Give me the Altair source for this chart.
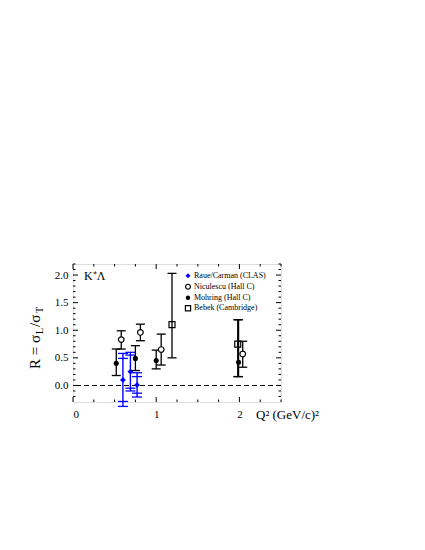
import altair as alt
import pandas as pd

# ---------------- data ----------------
clas_q2 = [0.60, 0.69, 0.77]
clas_r = [0.10, 0.25, 0.01]
clas_err_in = [0.39, 0.30, 0.15]
clas_err_out = [0.48, 0.35, 0.22]

nic_q2 = [0.58, 0.81, 1.06, 2.04]
nic_r = [0.83, 0.96, 0.65, 0.57]
nic_lo = [0.66, 0.81, 0.37, 0.33]
nic_hi = [0.99, 1.11, 0.93, 0.80]

moh_q2 = [0.52, 0.75, 1.00, 1.99]
moh_r = [0.40, 0.49, 0.45, 0.42]
moh_lo = [0.18, 0.27, 0.30, 0.16]
moh_hi = [0.66, 0.72, 0.64, 1.19]

beb_q2 = [1.19, 1.98]
beb_r = [1.10, 0.75]
beb_lo = [0.50, 0.16]
beb_hi = [2.03, 1.19]

legend_labels = ["Raue/Carman (CLAS)", "Niculescu (Hall C)", "Mohring (Hall C)", "Bebek (Cambridge)"]

x_major = [0, 1, 2]
x_minor = [0.25, 0.5, 0.75, 1.25, 1.5, 1.75, 2.25, 2.5]
y_major = [0.0, 0.5, 1.0, 1.5, 2.0]
y_minor = [-0.2, -0.1, 0.1, 0.2, 0.3, 0.4, 0.6, 0.7, 0.8, 0.9, 1.1, 1.2, 1.3, 1.4,
           1.6, 1.7, 1.8, 1.9, 2.1, 2.2]

# ---------------- layout constants ----------------
W, H = 208, 138
FONT = "Liberation Serif"
BLUE = "#0000ff"
xs = alt.Scale(domain=[0, 2.5], nice=False, zero=False)
ys = alt.Scale(domain=[-0.3, 2.2], nice=False, zero=False)

X = lambda f: alt.X(f, type="quantitative", scale=xs,
                    axis=alt.Axis(values=x_major, format="d", title=None, ticks=False, tickSize=0,
                                  domain=False, grid=False, labelFont=FONT, labelFontSize=11,
                                  labelPadding=6, labelColor="black"))
Y = lambda f: alt.Y(f, type="quantitative", scale=ys,
                    axis=alt.Axis(values=y_major, format=".1f", title=None, ticks=False, tickSize=0,
                                  domain=False, grid=False, labelFont=FONT, labelFontSize=11,
                                  labelPadding=5, labelColor="black"))

layers = []

# dashed zero line
layers.append(alt.Chart(pd.DataFrame({"y": [0.0]})).mark_rule(
    color="black", strokeDash=[5, 3], strokeWidth=1.1).encode(y=Y("y")))

# ----- CLAS (blue diamonds, double error caps) -----
clas = pd.DataFrame({"q": clas_q2, "r": clas_r})
clas["lo_in"] = [r - e for r, e in zip(clas_r, clas_err_in)]
clas["hi_in"] = [r + e for r, e in zip(clas_r, clas_err_in)]
clas["lo_out"] = [r - e for r, e in zip(clas_r, clas_err_out)]
clas["hi_out"] = [r + e for r, e in zip(clas_r, clas_err_out)]
layers.append(alt.Chart(clas).mark_rule(color=BLUE, strokeWidth=1.4).encode(
    x=X("q"), y=Y("lo_out"), y2="hi_out"))
for col in ["lo_in", "hi_in", "lo_out", "hi_out"]:
    layers.append(alt.Chart(clas).mark_tick(color=BLUE, orient="horizontal", size=10,
                                            thickness=1.3, opacity=1).encode(x=X("q"), y=Y(col)))

# ----- black error bars -----
def black_err(q, lo, hi):
    df = pd.DataFrame({"q": q, "lo": lo, "hi": hi})
    out = [alt.Chart(df).mark_rule(color="black", strokeWidth=1.3).encode(x=X("q"), y=Y("lo"), y2="hi")]
    for col in ["lo", "hi"]:
        out.append(alt.Chart(df).mark_tick(color="black", orient="horizontal", size=9,
                                           thickness=1.3, opacity=1).encode(x=X("q"), y=Y(col)))
    return out

layers += black_err(moh_q2, moh_lo, moh_hi)
layers += black_err(nic_q2, nic_lo, nic_hi)
layers += black_err(beb_q2, beb_lo, beb_hi)

# ----- markers -----
mk_clas = dict(shape="diamond", filled=True, color=BLUE, size=34, opacity=1)
mk_nic = dict(shape="circle", filled=False, color="black", fill="white", size=32, strokeWidth=1.2, opacity=1)
mk_moh = dict(shape="circle", filled=True, color="black", size=26, opacity=1)
mk_beb = dict(shape="square", filled=False, color="black", size=36, strokeWidth=1.2, opacity=1)

layers.append(alt.Chart(clas).mark_point(**mk_clas).encode(x=X("q"), y=Y("r")))
layers.append(alt.Chart(pd.DataFrame({"q": nic_q2, "r": nic_r})).mark_point(**mk_nic).encode(x=X("q"), y=Y("r")))
layers.append(alt.Chart(pd.DataFrame({"q": moh_q2, "r": moh_r})).mark_point(**mk_moh).encode(x=X("q"), y=Y("r")))
layers.append(alt.Chart(pd.DataFrame({"q": beb_q2, "r": beb_r})).mark_point(**mk_beb).encode(x=X("q"), y=Y("r")))

# ----- frame ticks (inward, mirrored) -----
def xticks(vals, L):
    df = pd.DataFrame({"v": vals})
    return [alt.Chart(df).mark_rule(color="black", strokeWidth=1).encode(x=X("v"), y=alt.value(H), y2=alt.value(H - L)),
            alt.Chart(df).mark_rule(color="black", strokeWidth=1).encode(x=X("v"), y=alt.value(0), y2=alt.value(L))]

def yticks(vals, L):
    df = pd.DataFrame({"v": vals})
    return [alt.Chart(df).mark_rule(color="black", strokeWidth=1).encode(y=Y("v"), x=alt.value(0), x2=alt.value(L)),
            alt.Chart(df).mark_rule(color="black", strokeWidth=1).encode(y=Y("v"), x=alt.value(W), x2=alt.value(W - L))]

layers += xticks(x_major, 5) + xticks(x_minor, 2.5)
layers += yticks(y_major, 5) + yticks(y_minor, 2.5)

# ----- legend (manual) -----
leg_rows = [11.7, 22.7, 33.7, 44.3]
for lab, mk, yy in zip(legend_labels, [mk_clas, mk_nic, mk_moh, mk_beb], leg_rows):
    d = pd.DataFrame({"t": [lab]})
    m = dict(mk)
    m["size"] = m["size"] * 0.75
    layers.append(alt.Chart(d).mark_point(**m).encode(x=alt.value(115), y=alt.value(yy)))
    layers.append(alt.Chart(d).mark_text(font=FONT, fontSize=8, align="left", baseline="middle",
                                         color="black").encode(text="t:N", x=alt.value(121), y=alt.value(yy)))

# ----- annotations -----
def txt(s, x, y, size, angle=0, baseline="alphabetic"):
    return alt.Chart(pd.DataFrame({"t": [s]})).mark_text(
        font=FONT, fontSize=size, align="left", baseline=baseline, angle=angle, color="black"
    ).encode(text="t:N", x=alt.value(x), y=alt.value(y))

layers.append(txt("K\u207a\u039b", 11, 15.5, 12))
layers.append(txt("Q\u00b2 (GeV/c)\u00b2", 183, 155, 13))
# y-axis title R = sigma_L / sigma_T (rotated)
layers.append(txt("R = \u03c3", -33, 105, 15, angle=270))
layers.append(txt("L", -30, 70, 10, angle=270))
layers.append(txt("/\u03c3", -33, 63, 15, angle=270))
layers.append(txt("T", -30, 49, 10, angle=270))

chart = alt.layer(*layers).properties(
    width=W, height=H,
    autosize=alt.AutoSizeParams(type="none"),
    padding={"left": 65, "top": 256, "right": 90, "bottom": 100},
).configure_view(stroke="black", strokeWidth=1.2).configure(background="white")

chart.save("out.html", embed_options={"renderer": "svg", "actions": False})
